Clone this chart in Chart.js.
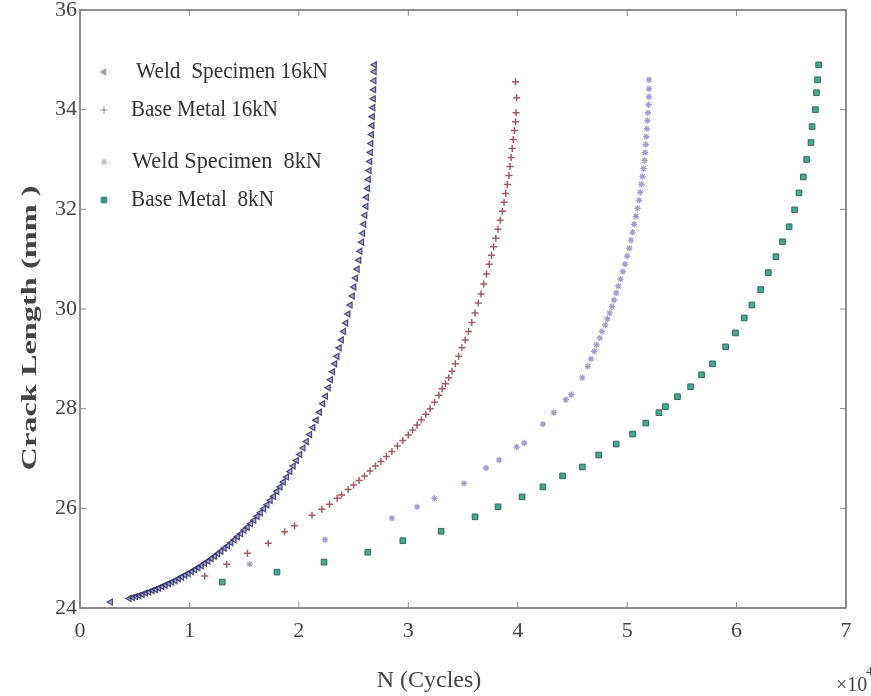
<!DOCTYPE html>
<html>
<head>
<meta charset="utf-8">
<script src="https://cdn.jsdelivr.net/npm/chart.js@4.4.1/dist/chart.umd.min.js"></script>
<style>
  html, body { margin: 0; padding: 0; background: #fff; }
  #wrap { width: 871px; height: 696px; }
</style>
</head>
<body>
<div id="wrap"><canvas id="crackChart" width="871" height="696"></canvas></div>
<script>
// Crack length vs number of cycles (N in units of 10^4)
const seriesNames = ['Weld  Specimen 16kN', 'Base Metal 16kN', 'Weld Specimen  8kN', 'Base Metal  8kN'];

const weld16kN = [
    [0.28, 24.12], [0.45, 24.19], [0.48, 24.21], [0.51, 24.23], [0.54, 24.25], [0.57, 24.27],
    [0.60, 24.3], [0.63, 24.32], [0.66, 24.35], [0.69, 24.37], [0.72, 24.4], [0.75, 24.43],
    [0.78, 24.46], [0.81, 24.49], [0.84, 24.52], [0.87, 24.55], [0.90, 24.59], [0.93, 24.62],
    [0.96, 24.66], [0.99, 24.69], [1.02, 24.73], [1.05, 24.77], [1.08, 24.81], [1.11, 24.85],
    [1.14, 24.9], [1.17, 24.94], [1.20, 24.99], [1.23, 25.04], [1.26, 25.09], [1.29, 25.14],
    [1.32, 25.2], [1.35, 25.25], [1.38, 25.31], [1.41, 25.37], [1.44, 25.43], [1.47, 25.49],
    [1.50, 25.56], [1.53, 25.62], [1.56, 25.69], [1.59, 25.76], [1.62, 25.84], [1.65, 25.91],
    [1.68, 25.99], [1.71, 26.07], [1.74, 26.16], [1.77, 26.24], [1.80, 26.34], [1.83, 26.43],
    [1.86, 26.53], [1.89, 26.63], [1.92, 26.74], [1.95, 26.85], [1.98, 26.96], [2.01, 27.08],
    [2.04, 27.21], [2.07, 27.34], [2.10, 27.48], [2.13, 27.62], [2.16, 27.77], [2.19, 27.93],
    [2.22, 28.1], [2.245, 28.25], [2.27, 28.42], [2.29, 28.58], [2.31, 28.74], [2.33, 28.9],
    [2.35, 29.05], [2.37, 29.22], [2.39, 29.38], [2.41, 29.55], [2.43, 29.72], [2.45, 29.9],
    [2.47, 30.08], [2.49, 30.26], [2.505, 30.44], [2.52, 30.62], [2.535, 30.8], [2.55, 30.98],
    [2.56, 31.16], [2.575, 31.34], [2.585, 31.52], [2.595, 31.7], [2.605, 31.88], [2.615, 32.06],
    [2.62, 32.24], [2.63, 32.42], [2.637, 32.6], [2.643, 32.78], [2.65, 32.96], [2.655, 33.14],
    [2.66, 33.32], [2.665, 33.5], [2.67, 33.68], [2.674, 33.86], [2.678, 34.04], [2.682, 34.22],
    [2.685, 34.4], [2.688, 34.58], [2.69, 34.76], [2.692, 34.9]
];

const base16kN = [
    [1.14, 24.64], [1.34, 24.88], [1.53, 25.1], [1.72, 25.3], [1.87, 25.53], [1.96, 25.65],
    [2.12, 25.86], [2.21, 25.98], [2.28, 26.08], [2.35, 26.2], [2.39, 26.27], [2.45, 26.38],
    [2.50, 26.47], [2.55, 26.56], [2.60, 26.65], [2.65, 26.75], [2.70, 26.85], [2.75, 26.94],
    [2.80, 27.04], [2.85, 27.14], [2.90, 27.25], [2.95, 27.36], [3.00, 27.47], [3.04, 27.57],
    [3.08, 27.67], [3.12, 27.78], [3.16, 27.89], [3.20, 28.0], [3.24, 28.13], [3.28, 28.27],
    [3.31, 28.4], [3.34, 28.5], [3.37, 28.62], [3.40, 28.75], [3.43, 28.9], [3.46, 29.05],
    [3.49, 29.22], [3.52, 29.38], [3.55, 29.55], [3.58, 29.73], [3.61, 29.92], [3.64, 30.12],
    [3.665, 30.3], [3.69, 30.5], [3.715, 30.7], [3.74, 30.9], [3.76, 31.08], [3.78, 31.25],
    [3.80, 31.42], [3.82, 31.6], [3.84, 31.78], [3.86, 31.96], [3.875, 32.14], [3.89, 32.32],
    [3.905, 32.5], [3.92, 32.68], [3.93, 32.86], [3.94, 33.04], [3.95, 33.22], [3.96, 33.4],
    [3.97, 33.58], [3.98, 33.76], [3.985, 33.94], [3.99, 34.24], [3.98, 34.56]
];

const weld8kN = [
    [1.55, 24.88], [2.24, 25.37], [2.85, 25.8], [3.08, 26.03], [3.24, 26.2], [3.51, 26.5],
    [3.71, 26.81], [3.83, 26.97], [3.99, 27.23], [4.06, 27.31], [4.23, 27.69], [4.33, 27.92],
    [4.44, 28.18], [4.49, 28.28], [4.59, 28.62], [4.64, 28.85], [4.67, 29.0], [4.70, 29.15],
    [4.72, 29.28], [4.75, 29.42], [4.77, 29.55], [4.80, 29.68], [4.82, 29.8], [4.84, 29.92],
    [4.86, 30.05], [4.88, 30.18], [4.90, 30.32], [4.92, 30.46], [4.94, 30.6], [4.96, 30.75],
    [4.98, 30.9], [5.00, 31.06], [5.02, 31.22], [5.035, 31.38], [5.05, 31.54], [5.065, 31.7],
    [5.08, 31.86], [5.095, 32.02], [5.11, 32.18], [5.12, 32.34], [5.13, 32.5], [5.14, 32.66],
    [5.15, 32.82], [5.16, 32.98], [5.165, 33.14], [5.17, 33.3], [5.175, 33.46], [5.18, 33.62],
    [5.185, 33.78], [5.19, 33.94], [5.195, 34.1], [5.20, 34.26], [5.20, 34.42], [5.20, 34.6]
];

const base8kN = [
    [1.30, 24.52], [1.80, 24.72], [2.23, 24.92], [2.63, 25.12], [2.95, 25.35], [3.30, 25.54],
    [3.61, 25.83], [3.82, 26.03], [4.04, 26.23], [4.23, 26.43], [4.41, 26.65], [4.59, 26.83],
    [4.74, 27.07], [4.90, 27.29], [5.05, 27.49], [5.17, 27.71], [5.29, 27.92], [5.35, 28.04],
    [5.46, 28.24], [5.58, 28.44], [5.68, 28.68], [5.78, 28.9], [5.90, 29.24], [5.99, 29.52],
    [6.07, 29.82], [6.14, 30.08], [6.22, 30.39], [6.29, 30.73], [6.36, 31.05], [6.42, 31.35],
    [6.48, 31.65], [6.53, 31.99], [6.57, 32.33], [6.61, 32.65], [6.64, 33.0], [6.68, 33.34],
    [6.69, 33.66], [6.72, 34.0], [6.73, 34.34], [6.74, 34.6], [6.75, 34.9]
];

const xTickValues = [0, 1, 2, 3, 4, 5, 6, 7];
const yTickValues = [24, 26, 28, 30, 32, 34, 36];

const toPoints = arr => arr.map(p => ({ x: p[0], y: p[1] }));

// Box around the plot with MATLAB style inward ticks
const boxPlugin = {
    id: 'boxPlugin',
    afterDraw(chart) {
        const ctx = chart.ctx;
        const a = chart.chartArea;
        const xs = chart.scales.x;
        const ys = chart.scales.y;
        ctx.save();
        ctx.strokeStyle = '#6a6a6a';
        ctx.lineWidth = 1.5;
        ctx.strokeRect(a.left, a.top, a.right - a.left, a.bottom - a.top);
        ctx.lineWidth = 1;
        ctx.strokeStyle = '#888';
        xTickValues.forEach(v => {
            const px = xs.getPixelForValue(v);
            ctx.beginPath();
            ctx.moveTo(px, a.bottom); ctx.lineTo(px, a.bottom - 6);
            ctx.moveTo(px, a.top); ctx.lineTo(px, a.top + 6);
            ctx.stroke();
        });
        yTickValues.forEach(v => {
            const py = ys.getPixelForValue(v);
            ctx.beginPath();
            ctx.moveTo(a.left, py); ctx.lineTo(a.left + 6, py);
            ctx.moveTo(a.right, py); ctx.lineTo(a.right - 6, py);
            ctx.stroke();
        });

        // axis titles
        ctx.fillStyle = '#444';
        ctx.textBaseline = 'middle';
        ctx.textAlign = 'center';
        ctx.save();
        ctx.translate(30, 328);
        ctx.rotate(-Math.PI / 2);
        ctx.font = 'bold 22px "Liberation Serif"';
        const w = ctx.measureText('Crack Length (mm )').width;
        ctx.scale(285 / w, 1);
        ctx.fillText('Crack Length (mm )', 0, 0);
        ctx.restore();

        ctx.font = '24px "Liberation Serif"';
        ctx.fillText('N (Cycles)', 429, 681, 128);
        ctx.textAlign = 'left';
        ctx.font = '20px "Liberation Serif"';
        ctx.fillText('\u00d710', 836, 686);
        ctx.font = '13px "Liberation Serif"';
        ctx.fillText('4', 866, 672);

        // legend
        const rows = [
            { y: 72, tx: 136, w: 192 },
            { y: 110, tx: 131, w: 147 },
            { y: 162, tx: 132, w: 190 },
            { y: 200, tx: 131, w: 143 }
        ];
        chart.data.datasets.forEach((ds, i) => {
            const r = rows[i];
            ctx.strokeStyle = ds.legendColor;
            ctx.fillStyle = ds.legendColor;
            Chart.helpers.drawPoint(ctx, {
                pointStyle: ds.pointStyle,
                radius: ds.pointRadius,
                rotation: ds.pointRotation || 0,
                borderWidth: 1
            }, 104, r.y);
            ctx.fillStyle = '#333';
            ctx.font = '24px "Liberation Serif"';
            ctx.textAlign = 'left';
            ctx.fillText(ds.label, r.tx, r.y, r.w);
        });
        ctx.restore();
    }
};

const ctx = document.getElementById('crackChart').getContext('2d');
new Chart(ctx, {
    type: 'scatter',
    data: {
        datasets: [{
            label: seriesNames[0],
            data: toPoints(weld16kN),
            pointStyle: 'triangle',
            pointRotation: -90,
            pointRadius: 3.5,
            borderWidth: 1.2,
            borderColor: 'rgba(50, 50, 100, 0.85)',
            backgroundColor: 'rgba(40, 40, 160, 0.4)',
            legendColor: '#999'
        }, {
            label: seriesNames[1],
            data: toPoints(base16kN),
            pointStyle: 'cross',
            pointRadius: 3.5,
            borderWidth: 1.5,
            borderColor: 'rgba(150, 60, 70, 0.85)',
            backgroundColor: 'rgba(150, 60, 70, 0.85)',
            legendColor: '#888'
        }, {
            label: seriesNames[2],
            data: toPoints(weld8kN),
            pointStyle: 'star',
            pointRadius: 3.2,
            borderWidth: 1.2,
            borderColor: 'rgba(140, 130, 195, 0.8)',
            backgroundColor: 'rgba(140, 130, 195, 0.8)',
            legendColor: '#aaa'
        }, {
            label: seriesNames[3],
            data: toPoints(base8kN),
            pointStyle: 'rect',
            pointRadius: 4,
            borderWidth: 1,
            borderColor: 'rgba(50, 90, 85, 0.9)',
            backgroundColor: 'rgba(45, 160, 135, 0.9)',
            legendColor: '#3a8f7c'
        }]
    },
    options: {
        responsive: false,
        animation: false,
        layout: { padding: { left: 0, right: 25, top: 10, bottom: 0 } },
        plugins: {
            legend: { display: false },
            tooltip: { enabled: false }
        },
        scales: {
            x: {
                type: 'linear',
                min: 0,
                max: 7,
                afterFit: scale => { scale.height = 88; scale.paddingLeft = 0; scale.paddingRight = 0; },
                afterBuildTicks: scale => { scale.ticks = xTickValues.map(v => ({ value: v })); },
                grid: { display: false, drawTicks: false },
                border: { display: false },
                ticks: {
                    padding: 10,
                    color: '#444',
                    font: { family: 'Liberation Serif', size: 22 }
                }
            },
            y: {
                type: 'linear',
                min: 24,
                max: 36,
                afterFit: scale => { scale.width = 80; scale.paddingTop = 0; scale.paddingBottom = 0; },
                afterBuildTicks: scale => { scale.ticks = yTickValues.map(v => ({ value: v })); },
                grid: { display: false, drawTicks: false },
                border: { display: false },
                ticks: {
                    padding: 3,
                    color: '#444',
                    font: { family: 'Liberation Serif', size: 22 }
                }
            }
        }
    },
    plugins: [boxPlugin]
});
</script>
</body>
</html>
